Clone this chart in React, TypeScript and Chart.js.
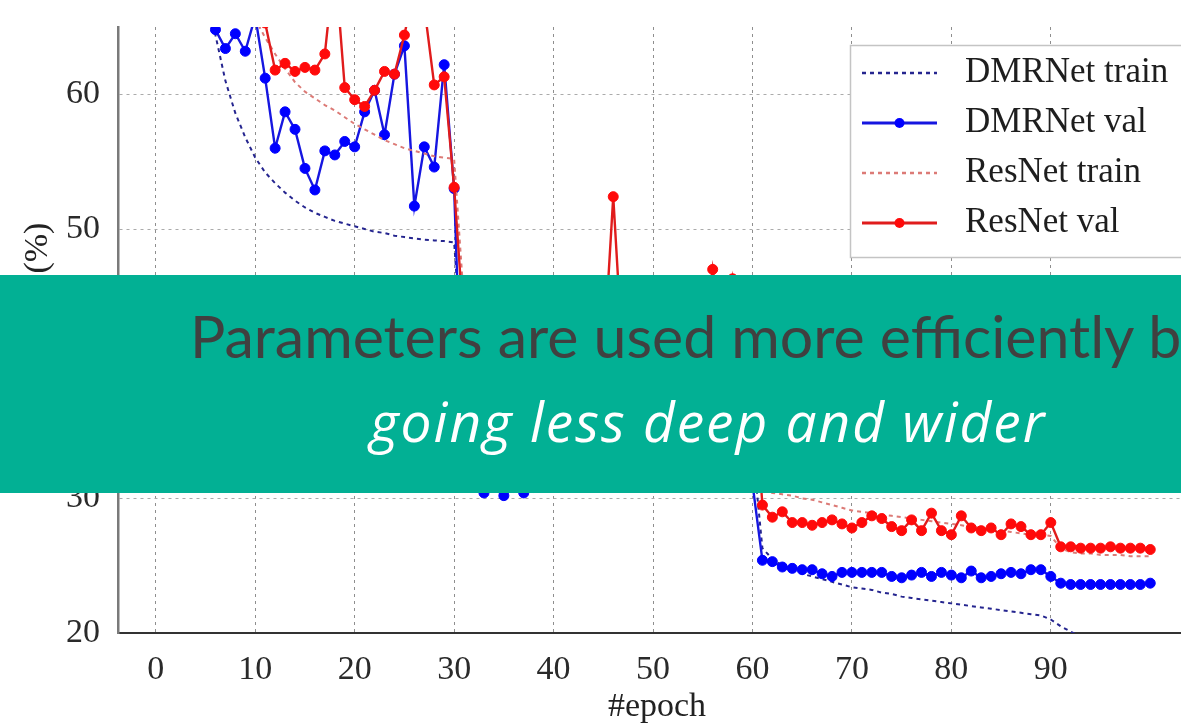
import React, { useEffect, useRef } from 'react';
import { Chart, registerables } from 'chart.js';

Chart.register(...registerables);

const epochs: number[] = Array.from({ length: 101 }, (_, i) => i);
const xTickValues = [0, 10, 20, 30, 40, 50, 60, 70, 80, 90];
const yTickValues = [20, 30, 40, 50, 60];
const seriesLabels = ['DMRNet train', 'DMRNet val', 'ResNet train', 'ResNet val'];

const dmrTrain = [
  92, 82, 75.5, 71, 68, 66, 64.4, 61.0, 58.6, 56.8,
  55.3, 54.2, 53.4, 52.7, 52.1, 51.6, 51.2, 50.9, 50.6, 50.4,
  50.2, 50.0, 49.8, 49.7, 49.5, 49.4, 49.3, 49.2, 49.15, 49.1,
  49.0, 38.5, 37.2, 36.6, 36.2, 35.9, 35.7, 35.5, 35.3, 35.2,
  35.1, 35.0, 34.9, 34.8, 34.7, 34.6, 34.5, 34.5, 34.4, 34.3,
  34.3, 34.2, 34.2, 34.1, 34.1, 34.0, 34.0, 33.9, 33.9, 33.8,
  33.8, 26.3, 25.5, 25.0, 24.7, 24.4, 24.2, 24.0, 23.8, 23.6,
  23.4, 23.3, 23.2, 23.0, 22.9, 22.7, 22.6, 22.5, 22.4, 22.3,
  22.2, 22.1, 22.0, 21.9, 21.8, 21.7, 21.6, 21.5, 21.4, 21.3,
  21.0, 20.5, 20.1, 19.7, 19.4, 19.2, 19.0, 18.9, 18.8, 18.7,
  18.6,
];

const dmrVal = [
  90, 80, 74, 71, 69, 67, 64.8, 63.4, 64.5, 63.2,
  65.8, 61.2, 56.0, 58.7, 57.4, 54.5, 52.9, 55.8, 55.5, 56.5,
  56.1, 58.7, 60.3, 57.0, 61.5, 63.6, 51.7, 56.1, 54.6, 62.2,
  53.0, 31.2, 30.9, 30.4, 30.8, 30.2, 30.8, 30.4, 30.8, 31.0,
  31.2, 31.0, 31.3, 31.1, 31.4, 31.2, 31.0, 31.3, 31.1, 31.4,
  31.2, 31.0, 31.3, 31.1, 31.2, 31.4, 31.1, 31.3, 31.0, 31.2,
  31.1, 25.4, 25.3, 24.9, 24.8, 24.7, 24.7, 24.4, 24.2, 24.5,
  24.5, 24.5, 24.5, 24.5, 24.2, 24.1, 24.3, 24.5, 24.2, 24.5,
  24.3, 24.1, 24.6, 24.1, 24.2, 24.4, 24.5, 24.4, 24.7, 24.7,
  24.2, 23.7, 23.6, 23.6, 23.6, 23.6, 23.6, 23.6, 23.6, 23.6,
  23.7,
];

const resTrain = [
  95, 86, 80, 76, 73, 71, 69.5, 68.2, 67.2, 66.3,
  65.6, 64.2, 63.0, 61.9, 60.9, 60.2, 59.7, 59.2, 58.8, 58.3,
  57.8, 57.4, 57.0, 56.6, 56.3, 56.0, 55.8, 55.6, 55.4, 55.3,
  55.2, 44.5, 43.6, 43.0, 42.6, 42.3, 42.1, 41.9, 41.7, 41.6,
  41.5, 41.4, 41.3, 41.2, 41.1, 41.0, 41.0, 40.9, 40.8, 40.8,
  40.7, 40.7, 40.6, 40.6, 40.5, 40.5, 40.4, 40.4, 40.3, 40.3,
  40.2, 30.6, 30.4, 30.3, 30.2, 30.0, 29.9, 29.7, 29.5, 29.3,
  29.1, 29.0, 28.9, 28.8, 28.7, 28.6, 28.5, 28.4, 28.3, 28.2,
  28.1, 28.0, 27.9, 27.8, 27.7, 27.6, 27.5, 27.4, 27.3, 27.3,
  27.2, 26.3, 26.0, 25.9, 25.9, 25.8, 25.8, 25.8, 25.7, 25.7,
  25.7,
];

const resVal = [
  92, 84, 79, 76, 74, 72, 71, 70, 69, 68,
  67.5, 65.3, 61.8, 62.3, 61.7, 62.0, 61.8, 63.0, 70.0, 60.5,
  59.6, 59.1, 60.3, 61.7, 61.5, 64.4, 68.0, 66.5, 60.7, 61.3,
  53.1, 42.5, 41.0, 40.2, 40.6, 39.6, 40.1, 39.3, 40.4, 39.8,
  39.2, 40.0, 39.5, 40.3, 39.4, 40.0, 52.4, 39.8, 39.4, 40.3,
  39.5, 39.9, 40.6, 39.8, 40.4, 40.8, 47.0, 41.5, 46.3, 40.8,
  40.0, 29.5, 28.6, 29.0, 28.2, 28.2, 28.0, 28.2, 28.4, 28.1,
  27.8, 28.2, 28.7, 28.5, 27.9, 27.6, 28.4, 27.6, 28.9, 27.6,
  27.3, 28.7, 27.8, 27.6, 27.8, 27.3, 28.1, 27.9, 27.3, 27.3,
  28.2, 26.4, 26.4, 26.3, 26.3, 26.3, 26.4, 26.3, 26.3, 26.3,
  26.2,
];

const toPoints = (vals: number[]) => epochs.map((e, i) => ({ x: e, y: vals[i] }));

const SERIF = '"Liberation Serif", "Times New Roman", serif';

const legendBox = {
  id: 'legendBox',
  afterDraw(chart: any) {
    const { ctx } = chart;
    const left = 850;
    const top = 45;
    const firstRow = 73;
    const rowH = 50;
    ctx.save();
    ctx.setLineDash([]);
    ctx.fillStyle = '#ffffff';
    ctx.fillRect(left, top, 420, 213);
    ctx.strokeStyle = '#c4c4c4';
    ctx.lineWidth = 1.5;
    ctx.strokeRect(left + 0.5, top + 0.5, 420, 212);
    chart.data.datasets.forEach((ds: any, i: number) => {
      const y = firstRow + i * rowH;
      ctx.save();
      ctx.strokeStyle = ds.borderColor;
      ctx.lineWidth = ds.borderWidth + 0.5;
      ctx.setLineDash(ds.borderDash || []);
      ctx.beginPath();
      ctx.moveTo(862, y);
      ctx.lineTo(937, y);
      ctx.stroke();
      ctx.restore();
      if (ds.pointRadius > 0) {
        ctx.beginPath();
        ctx.arc(899.5, y, ds.pointRadius, 0, Math.PI * 2);
        ctx.fillStyle = ds.pointBackgroundColor;
        ctx.fill();
      }
      ctx.fillStyle = '#1e1e1e';
      ctx.font = '35px ' + SERIF;
      ctx.textBaseline = 'middle';
      ctx.textAlign = 'left';
      ctx.fillText(ds.label, 965, y);
    });
    ctx.restore();
  },
};

export default function App() {
  const ref = useRef<HTMLCanvasElement>(null);

  useEffect(() => {
    const canvas = ref.current;
    if (!canvas) return;
    const chart = new Chart(canvas, {
      type: 'line',
      data: {
        datasets: [
          {
            label: seriesLabels[0],
            data: toPoints(dmrTrain),
            borderColor: '#25258f',
            borderWidth: 2,
            borderDash: [4, 4],
            pointRadius: 0,
            order: 3,
            clip: 0,
          },
          {
            label: seriesLabels[1],
            data: toPoints(dmrVal),
            borderColor: '#1616e0',
            borderWidth: 2.4,
            pointRadius: 5,
            pointBackgroundColor: '#0000ff',
            pointBorderColor: '#0000ff',
            pointBorderWidth: 1,
            order: 2,
            clip: 0,
          },
          {
            label: seriesLabels[2],
            data: toPoints(resTrain),
            borderColor: '#dc7a76',
            borderWidth: 2,
            borderDash: [4, 4],
            pointRadius: 0,
            order: 1,
            clip: 0,
          },
          {
            label: seriesLabels[3],
            data: toPoints(resVal),
            borderColor: '#e01c1c',
            borderWidth: 2.4,
            pointRadius: 5,
            pointBackgroundColor: '#ff0a0a',
            pointBorderColor: '#ff0a0a',
            pointBorderWidth: 1,
            order: 0,
            clip: 0,
          },
        ] as any,
      },
      options: {
        animation: false,
        responsive: false,
        devicePixelRatio: 1,
        layout: { padding: { top: 27, left: 0, right: 0, bottom: 0 } },
        elements: { line: { tension: 0 } },
        plugins: {
          legend: { display: false },
          tooltip: { enabled: false },
        },
        scales: {
          x: {
            type: 'linear',
            min: -3.8,
            max: 104.6,
            afterBuildTicks: (s: any) => {
              s.ticks = xTickValues.map((v) => ({ value: v }));
            },
            afterFit: (s: any) => {
              s.height = 91;
              s.paddingLeft = 0;
              s.paddingRight = 0;
            },
            grid: { color: '#8e8e8e', lineWidth: 1, drawTicks: false },
            border: { display: true, color: '#333333', width: 2, dash: [3, 4] },
            ticks: {
              color: '#2a2a2a',
              font: { family: SERIF, size: 34 },
              padding: 17,
              maxRotation: 0,
              autoSkip: false,
            },
            title: {
              display: true,
              text: '#epoch',
              color: '#222222',
              font: { family: SERIF, size: 34 },
              padding: { top: 0, bottom: -3 },
            },
          },
          y: {
            type: 'linear',
            min: 20,
            max: 65,
            afterBuildTicks: (s: any) => {
              s.ticks = yTickValues.map((v) => ({ value: v }));
            },
            afterFit: (s: any) => {
              s.width = 118;
              s.paddingTop = 0;
              s.paddingBottom = 0;
            },
            grid: { color: '#ababab', lineWidth: 1, drawTicks: false },
            border: { display: true, color: '#7a7a7a', width: 2.5, dash: [3, 4] },
            ticks: {
              color: '#2a2a2a',
              font: { family: SERIF, size: 34 },
              padding: 18,
            },
            title: {
              display: true,
              text: 'Top-1 error (%)',
              color: '#222222',
              font: { family: SERIF, size: 34 },
              padding: { top: 18, bottom: 0 },
            },
          },
        },
      } as any,
      plugins: [legendBox],
    });
    return () => chart.destroy();
  }, []);

  return (
    <div
      style={{
        position: 'fixed',
        left: 0,
        top: 0,
        width: 1181,
        height: 724,
        overflow: 'hidden',
        background: '#ffffff',
      }}
    >
      <canvas ref={ref} width={1202} height={724} style={{ display: 'block', width: 1202, height: 724 }} />
      <div
        style={{
          position: 'absolute',
          left: 0,
          top: 275,
          width: 1181,
          height: 218,
          background: '#02b094',
          overflow: 'hidden',
        }}
      >
        <div
          style={{
            position: 'absolute',
            left: 190,
            top: 31,
            fontFamily: 'Lato, "Open Sans", sans-serif',
            fontSize: 59,
            lineHeight: 1,
            color: '#404040',
            whiteSpace: 'nowrap',
          }}
        >
          Parameters are used more efficiently by
        </div>
        <div
          style={{
            position: 'absolute',
            left: 370,
            top: 118,
            fontFamily: '"Open Sans", Lato, sans-serif',
            fontStyle: 'italic',
            fontSize: 55,
            letterSpacing: 2,
            lineHeight: 1,
            color: '#ffffff',
            whiteSpace: 'nowrap',
          }}
        >
          going less deep and wider
        </div>
      </div>
    </div>
  );
}
